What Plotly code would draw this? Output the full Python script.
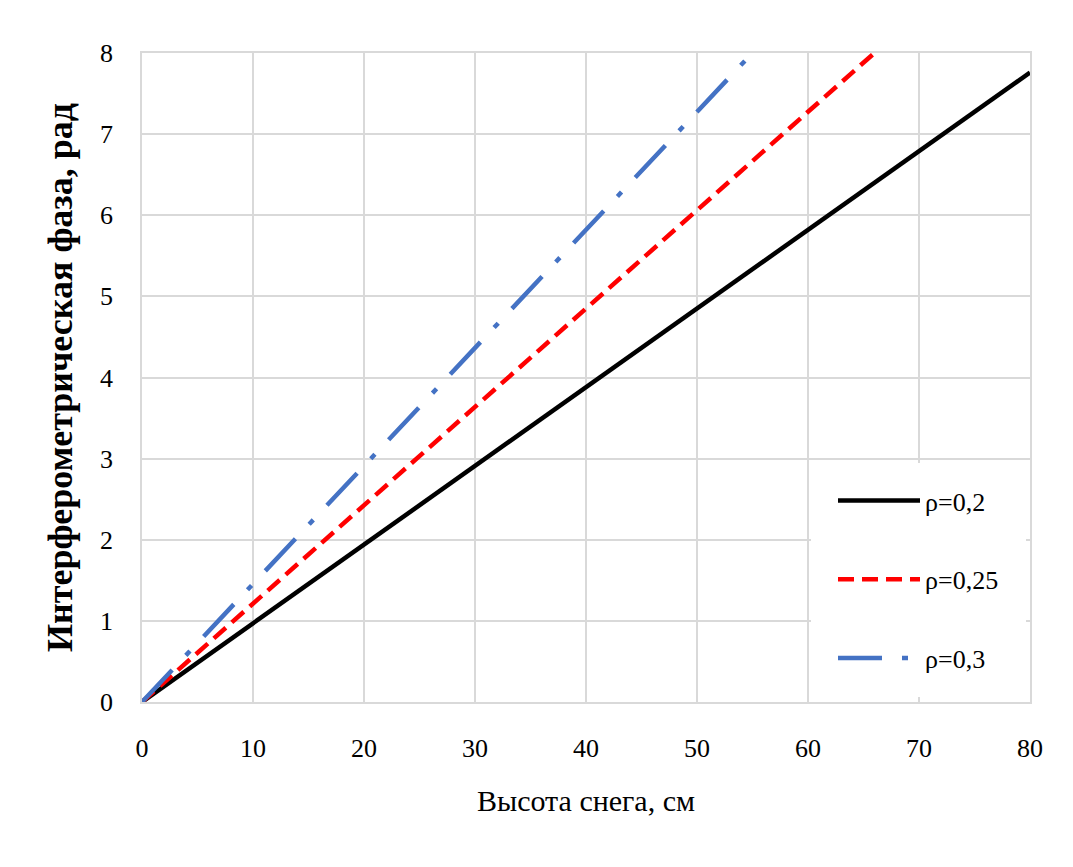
import plotly.graph_objects as go

height_cm = [0, 10, 20, 30, 40, 50, 60, 70, 80]
phase_rho_020 = [0, 0.97, 1.94, 2.91, 3.88, 4.85, 5.82, 6.79, 7.76]
phase_rho_025 = [0, 1.2125, 2.425, 3.6375, 4.85, 6.0625, 7.275, 8.4875, 9.70]
phase_rho_030 = [0, 1.455, 2.91, 4.365, 5.82, 7.275, 8.73, 10.185, 11.64]
names = ["ρ=0,2", "ρ=0,25", "ρ=0,3"]
x_ticks = [0, 10, 20, 30, 40, 50, 60, 70, 80]
y_ticks = [0, 1, 2, 3, 4, 5, 6, 7, 8]

font = "Liberation Serif"

def serif(t):
    return '<span style="font-family:\'Liberation Serif\', serif">' + t + '</span>'

fig = go.Figure()
fig.add_trace(go.Scatter(x=height_cm, y=phase_rho_020, mode="lines", name=serif(names[0]),
                         legendgroup="a",
                         line=dict(color="black", width=4.5)))
fig.add_trace(go.Scatter(x=height_cm, y=phase_rho_025, mode="lines", name=serif(names[1]),
                         legendgroup="b",
                         line=dict(color="#ff0000", width=4.5, dash="16px,8px")))
fig.add_trace(go.Scatter(x=height_cm, y=phase_rho_030, mode="lines", name=serif(names[2]),
                         legendgroup="c",
                         line=dict(color="#4472c4", width=4.5, dash="44px,20px,6px,20px")))

L, R, T, B = 142, 43, 53, 165
W, H = 1073, 867
pw, ph = W - L - R, H - T - B

def px_x(px):
    return (px - L) / pw

def px_y(py):
    return (H - B - py) / ph

fig.add_shape(type="rect", xref="paper", yref="paper",
              x0=px_x(811), x1=px_x(1026), y0=px_y(697), y1=px_y(463),
              fillcolor="white", line=dict(width=0), layer="above")

fig.update_layout(
    width=W, height=H,
    margin=dict(l=L, r=R, t=T, b=B),
    paper_bgcolor="white", plot_bgcolor="white",
    font=dict(family=font, size=24, color="black"),
    showlegend=True,
    legend=dict(x=px_x(833), y=px_y(477), xanchor="left", yanchor="top",
                bgcolor="rgba(255,255,255,0)", font=dict(size=26, family=font),
                tracegroupgap=42, itemwidth=82, traceorder="grouped"),
    xaxis=dict(range=[0, 80], tickvals=x_ticks, showgrid=True, gridcolor="#d9d9d9",
               gridwidth=1.5, zeroline=False, showline=True, linecolor="#d9d9d9",
               linewidth=1.5, mirror=True, ticks="", ticklabelstandoff=22,
               tickfont=dict(size=26, family=font),
               title=dict(text="Высота снега, см", font=dict(size=30, family=font),
                          standoff=28)),
    yaxis=dict(range=[0, 8], tickvals=y_ticks, showgrid=True, gridcolor="#d9d9d9",
               gridwidth=1.5, zeroline=False, showline=True, linecolor="#d9d9d9",
               linewidth=1.5, mirror=True, ticks="", ticklabelstandoff=22,
               tickfont=dict(size=26, family=font),
               title=dict(text="<b>Интерферометрическая фаза, рад</b>",
                          font=dict(size=36, family=font), standoff=16)),
)

fig.write_html("out.html")
